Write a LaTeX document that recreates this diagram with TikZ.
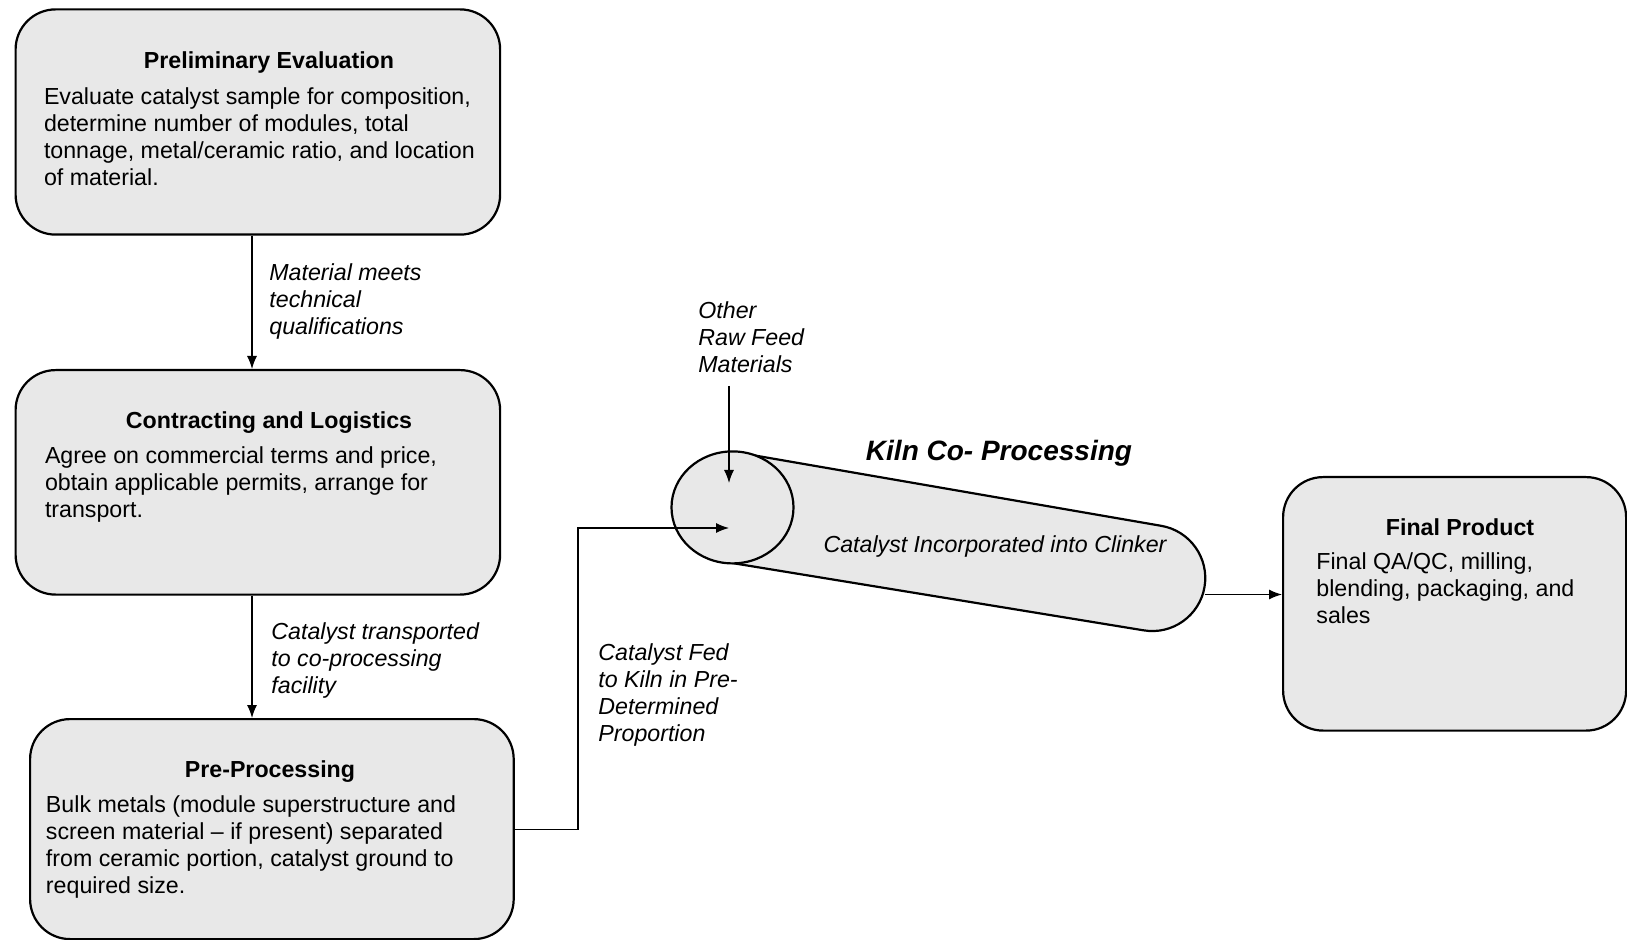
\documentclass[tikz,border=0pt]{standalone}
\usepackage{fontspec}
\setmainfont{Liberation Sans}
\usetikzlibrary{arrows.meta}
\definecolor{shade}{gray}{0.91}
\begin{document}
\begin{tikzpicture}[x=0.5pt, y=0.5pt,
  box/.style={draw, line width=1.1pt, rounded corners=20pt, fill=shade, inner sep=0pt, anchor=north west},
  arr/.style={-{Latex[length=6.5pt,width=5pt]}, line width=0.6pt},
  txt/.style={font=\fontsize{11.6pt}{13.5pt}\selectfont, inner sep=0pt, align=left, anchor=north west},
  ttl/.style={font=\fontsize{11.6pt}{13.5pt}\selectfont\bfseries, inner sep=0pt},
  lbl/.style={txt, font=\fontsize{11.6pt}{13.5pt}\selectfont\itshape}]
\useasboundingbox (0,0) rectangle (1627,-940);

% boxes
\node[box, minimum width=242.25pt, minimum height=112.6pt] (pe) at (14.5,-8.3) {};
\node[box, minimum width=242.25pt, minimum height=112.25pt] (cl) at (14.5,-369) {};
\node[box, minimum width=241.8pt, minimum height=110pt] (pp) at (29,-718) {};
\node[box, minimum width=171.5pt, minimum height=126.75pt] (fp) at (1282,-476) {};

% box texts
\node[ttl] (pet) at (269,-63) {Preliminary Evaluation};
\node[txt] (peb) at (43.6,-87.5) {Evaluate catalyst sample for composition,\\determine number of modules, total\\tonnage, metal/ceramic ratio, and location\\of material.};
\node[ttl] (clt) at (269,-423) {Contracting and Logistics};
\node[txt] (clb) at (44.6,-446.5) {Agree on commercial terms and price,\\obtain applicable permits, arrange for\\transport.};
\node[ttl] (ppt) at (270,-772) {Pre-Processing};
\node[txt] (ppb) at (45.6,-795) {Bulk metals (module superstructure and\\screen material -- if present) separated\\from ceramic portion, catalyst ground to\\required size.};
\node[ttl] (fpt) at (1460,-527) {Final Product};
\node[txt] (fpb) at (1316,-552) {Final QA/QC, milling,\\blending, packaging, and\\sales};

% kiln
\draw[line width=1.1pt, fill=shade] (741.6,-453.2) -- (1161.1,-525.8)
   arc[start angle=80.4, end angle=-99.6, radius=26.5pt] -- (723.4,-561.6) -- cycle;
\coordinate (c1) at (732.5,-507.4);
\draw[line width=1.1pt, fill=shade] (c1) ellipse[x radius=30.5pt, y radius=28pt];
\node[font=\fontsize{14pt}{16pt}\selectfont\bfseries\itshape, inner sep=0pt] (kt) at (999,-453) {Kiln Co- Processing};
\node[font=\fontsize{11.6pt}{13.5pt}\selectfont\itshape, inner sep=0pt] (kc) at (995,-547) {Catalyst Incorporated into Clinker};

% labels
\node[lbl] (l1) at (269,-263) {Material meets\\technical\\qualifications};
\node[lbl] (l2) at (271,-622) {Catalyst transported\\to co-processing\\facility};
\node[lbl] (lf) at (598,-643) {Catalyst Fed\\to Kiln in Pre-\\Determined\\Proportion};
\node[lbl] (lo) at (698,-301) {Other\\Raw Feed\\Materials};

% connectors
\coordinate (ax) at (252,0);
\draw[arr] (ax |- pe.south) -- (ax |- cl.north);
\draw[arr] (ax |- cl.south) -- (ax |- pp.north);
\coordinate (fb) at (578,-528);
\coordinate (feedtip) at (729,-528);
\draw[arr] (pp.east) -| (fb) -- (feedtip);
\coordinate (othtop) at (729,-386);
\coordinate (othtip) at (729,-483);
\draw[arr] (othtop) -- (othtip);
\coordinate (kilnout) at (1204.5,-594.5);
\draw[arr] (kilnout) -- (kilnout -| fp.west);
\end{tikzpicture}
\end{document}
